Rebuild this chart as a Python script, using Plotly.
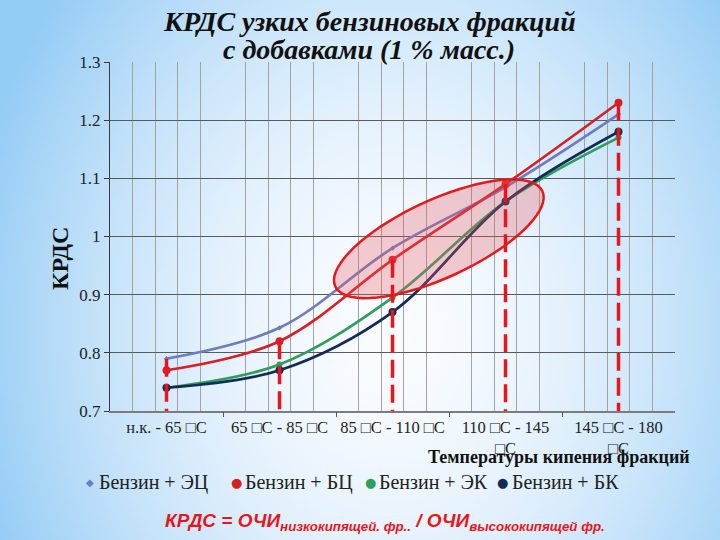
import base64, struct, zlib
import numpy as np
import plotly.graph_objects as go

# ---------------- data ----------------
categories = ["н.к. - 65 □C", "65 □C - 85 □C", "85 □C - 110 □C",
              "110 □C - 145<br>□C", "145 □C - 180<br>□C"]
series_names = ["Бензин + ЭЦ", "Бензин + БЦ", "Бензин + ЭК", "Бензин + БК"]
benzin_ec = [0.79, 0.843, 0.98, 1.085, 1.21]
benzin_bc = [0.77, 0.82, 0.96, 1.09, 1.23]
benzin_ek = [0.74, 0.78, 0.895, 1.06, 1.17]
benzin_bk = [0.74, 0.77, 0.87, 1.06, 1.18]
y_ticks = [0.7, 0.8, 0.9, 1.0, 1.1, 1.2, 1.3]
title_lines = ["КРДС узких бензиновых фракций", "с добавками (1 % масс.)"]

colors = ["#6e7cc0", "#d91f26", "#2f9e5c", "#132b57"]
symbols = ["diamond", "circle", "circle", "circle"]
legend_glyphs = ["◆", "●", "●", "●"]
msizes = [4, 8, 6, 8]

# ---------------- geometry ----------------
W, H = 720, 540
L, R, T, B = 110, 45, 62, 129
PW, PH = W - L - R, H - T - B
def px_x(p):  # figure px -> paper
    return (p - L) / PW
def px_y(p):
    return (H - B - p) / PH

x_idx = list(range(len(categories)))

# ---------------- background gradient ----------------
bw, bh = 180, 135
yy, xx = np.mgrid[0:bh, 0:bw]
X = (xx + 0.5) / bw * W
Y = (yy + 0.5) / bh * H
t = np.sqrt(((X - 390) / 430) ** 2 + ((Y - 330) / 540) ** 2)
f = np.clip(t, 0, 1) ** 1.7
white = np.array([250, 252, 255.0])
blue = np.array([148, 204, 245.0])
img = white * (1 - f[..., None]) + blue * f[..., None]
img = img.astype(np.uint8)
raw = b"".join(b"\x00" + img[r].tobytes() for r in range(bh))
def chunk(tag, data):
    return struct.pack(">I", len(data)) + tag + data + struct.pack(">I", zlib.crc32(tag + data) & 0xffffffff)
png = (b"\x89PNG\r\n\x1a\n" + chunk(b"IHDR", struct.pack(">IIBBBBB", bw, bh, 8, 2, 0, 0, 0))
       + chunk(b"IDAT", zlib.compress(raw, 9)) + chunk(b"IEND", b""))
bg_src = "data:image/png;base64," + base64.b64encode(png).decode()

fig = go.Figure()

all_series = [benzin_ec, benzin_bc, benzin_ek, benzin_bk]
for name, vals, c, s, ms in zip(series_names, all_series, colors, symbols, msizes):
    fig.add_trace(go.Scatter(
        x=x_idx, y=vals, mode="lines+markers", name=name, showlegend=False,
        line=dict(color=c, width=2.7, shape="spline", smoothing=1.0),
        marker=dict(color=c, symbol=s, size=ms)))

# invisible trace for the secondary x axis (boundary ticks)
fig.add_trace(go.Scatter(x=[0], y=[1.0], xaxis="x2", mode="markers",
                         marker=dict(opacity=0), showlegend=False, hoverinfo="skip"))

# ---------------- ellipse (highlight) ----------------
ux, uy = PW / len(categories), PH / (y_ticks[-1] - y_ticks[0])  # px per unit
ecx, ecy = 2.41, 0.996
ea, eb, eang = 114, 39, np.deg2rad(24.7)
tt = np.linspace(0, 2 * np.pi, 73)
dxp = ea * np.cos(tt) * np.cos(eang) - eb * np.sin(tt) * np.sin(eang)
dyp = ea * np.cos(tt) * np.sin(eang) + eb * np.sin(tt) * np.cos(eang)
ex = ecx + dxp / ux
ey = ecy + dyp / uy
path = "M " + " L ".join(f"{a:.4f},{b:.4f}" for a, b in zip(ex, ey)) + " Z"
fig.add_shape(type="path", path=path, xref="x", yref="y", layer="above",
              fillcolor="rgba(232,90,95,0.30)", line=dict(color="#e3191e", width=2.5))

# ---------------- red dashed drop lines ----------------
dash_from = [max(v[0] for v in all_series)] + benzin_bc[1:]
for i, top in enumerate(dash_from):
    fig.add_shape(type="line", xref="x", yref="y", x0=i, x1=i, y0=top,
                  y1=y_ticks[0] - 5 / uy, layer="above",
                  line=dict(color="#e8161c", width=3.5, dash="18px,7px"))

# ---------------- minor vertical gridlines ----------------
grid_x = [round(-0.5 + 0.2 * j, 3) for j in range(1, 25) if j % 5 != 0]

serif = "Liberation Serif, Times New Roman, serif"

fig.update_layout(
    width=W, height=H,
    margin=dict(l=L, r=R, t=T, b=B),
    paper_bgcolor="white", plot_bgcolor="rgba(0,0,0,0)",
    showlegend=False,
    images=[dict(source=bg_src, xref="paper", yref="paper",
                 x=-L / PW, y=1 + T / PH, sizex=W / PW, sizey=H / PH,
                 xanchor="left", yanchor="top", sizing="stretch", layer="below")],
    xaxis=dict(range=[-0.5, 4.5], tickmode="array", tickvals=x_idx, ticktext=categories,
               showgrid=False, zeroline=False, ticks="",
               showline=True, linecolor="#7c7c7c", linewidth=2,
               tickfont=dict(family=serif, size=16.5, color="#222222"),
               minor=dict(tickmode="array", tickvals=grid_x, showgrid=True,
                          gridcolor="#a3a3a3", gridwidth=1.4, ticks="")),
    xaxis2=dict(range=[-0.5, 4.5], overlaying="x", anchor="y", side="bottom",
                tickmode="array", tickvals=[0.5, 1.5, 2.5, 3.5], ticks="outside",
                ticklen=5, tickcolor="#555555", showticklabels=False,
                showgrid=False, zeroline=False, showline=False),
    yaxis=dict(range=[y_ticks[0], y_ticks[-1]], tickmode="array", tickvals=y_ticks,
               ticktext=[f"{v:g}" for v in y_ticks],
               showgrid=True, gridcolor="#5a5a5a", gridwidth=1, zeroline=False,
               showline=True, linecolor="#3a3a3a", linewidth=1,
               ticks="outside", ticklen=5, tickcolor="#3a3a3a",
               tickfont=dict(family=serif, size=17, color="#222222")),
)

# legend row (marker glyph + label), laid out like the original
legend_marker_px = [90, 236, 370, 503]
for name, c, g, mx in zip(series_names, colors, legend_glyphs, legend_marker_px):
    fig.add_annotation(text=g, xref="paper", yref="paper", x=px_x(mx), y=px_y(482),
                       xanchor="center", yanchor="middle", showarrow=False,
                       font=dict(family="DejaVu Sans, sans-serif",
                                 size=10 if g == "◆" else 13, color=c))
    fig.add_annotation(text=name, xref="paper", yref="paper", x=px_x(mx + 7), y=px_y(482),
                       xanchor="left", yanchor="middle", showarrow=False,
                       font=dict(family=serif, size=20, color="#222222"))

# title (two lines, tight spacing)
for line, ypx in zip(title_lines, [21, 49]):
    fig.add_annotation(text=f"<b><i>{line}</i></b>", xref="paper", yref="paper",
                       x=px_x(369), y=px_y(ypx), yanchor="middle", showarrow=False,
                       font=dict(family=serif, size=28, color="#111111"))

# axis titles and formula
fig.add_annotation(text="<b>КРДС</b>", xref="paper", yref="paper",
                   x=px_x(45), y=px_y(259), textangle=-90, showarrow=False,
                   font=dict(family=serif, size=24, color="#111111"))
fig.add_annotation(text="<b>Температуры кипения фракций</b>", xref="paper", yref="paper",
                   x=px_x(692), xanchor="right", y=px_y(457), yanchor="middle", showarrow=False,
                   font=dict(family=serif, size=18, color="#111111"))
fig.add_annotation(text="<b><i>КРДС = ОЧИ<sub>низкокипящей. фр..</sub> / ОЧИ<sub>высококипящей фр.</sub></i></b>",
                   xref="paper", yref="paper", x=px_x(385), y=px_y(522), yanchor="middle",
                   showarrow=False,
                   font=dict(family="Liberation Sans, Arial, sans-serif", size=19, color="#e8161c"))

fig.write_html("out.html")
